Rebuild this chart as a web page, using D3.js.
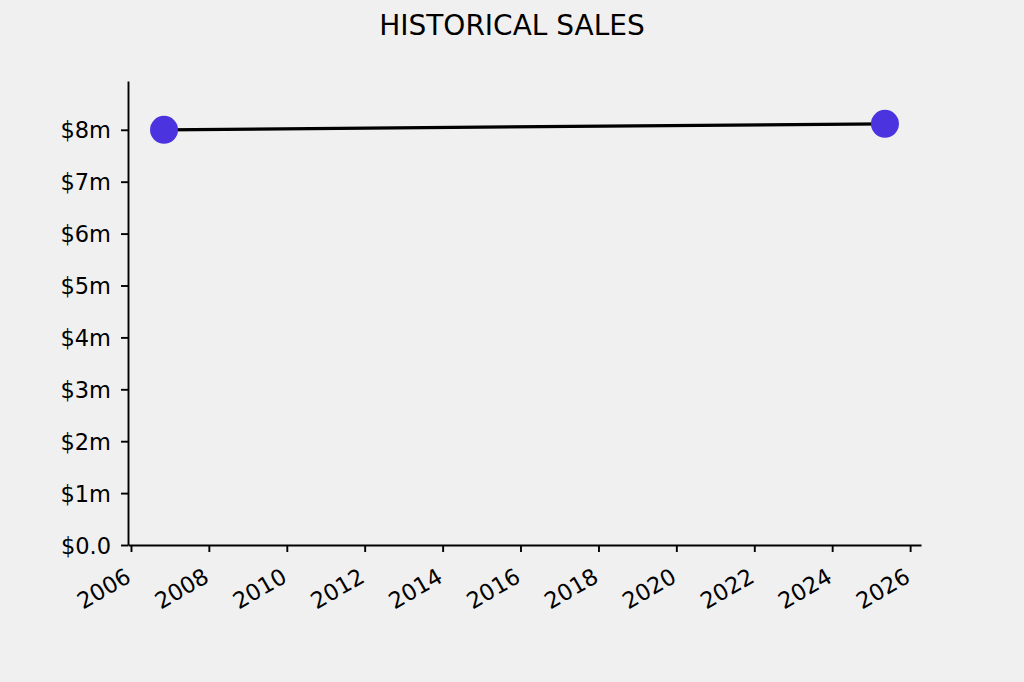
<!DOCTYPE html>
<html>
<head>
<meta charset="utf-8">
<script src="https://cdn.jsdelivr.net/npm/d3@7"></script>
<style>
  body { margin: 0; background: #f0f0f0; }
  svg, svg text { font-family: "DejaVu Sans", sans-serif; }
  svg { display: block; }
  .axis path, .axis line { stroke: #000; stroke-width: 1.9; }
  .axis text { fill: #000; font-size: 22.5px; font-family: "DejaVu Sans", sans-serif; }
</style>
</head>
<body>
<div id="chart"></div>
<script>
// sales over time (in millions)
const saleDates = ['2006-11-07', '2025-05-10']
const saleValues = [8.0, 8.115]
const yTicks = [0, 1, 2, 3, 4, 5, 6, 7, 8]
const xTickYears = [2006, 2008, 2010, 2012, 2014, 2016, 2018, 2020, 2022, 2024, 2026]

const width = 1024
const height = 682
const margin = {top: 81, right: 103, bottom: 137, left: 128}

const parse = d3.timeParse('%Y-%m-%d')
const data = saleDates.map((d, i) => ({date: parse(d), value: saleValues[i]}))

const svg = d3.select('#chart')
  .append('svg')
  .attr('width', width)
  .attr('height', height)

svg.append('rect')
  .attr('width', width)
  .attr('height', height)
  .attr('fill', '#f0f0f0')

// matplotlib style 5% margins on x
const ext = d3.extent(data, d => d.date)
const pad = (ext[1] - ext[0]) * 0.05
const x = d3.scaleTime()
  .domain([new Date(+ext[0] - pad), new Date(+ext[1] + pad)])
  .range([margin.left, width - margin.right])

const y = d3.scaleLinear()
  .domain([0, 8.94])
  .range([height - margin.bottom, margin.top])

svg.append('text')
  .attr('x', width / 2)
  .attr('y', 35)
  .attr('text-anchor', 'middle')
  .style('font-size', '28px')
  .text('HISTORICAL SALES')

const xAxis = d3.axisBottom(x)
  .tickValues(xTickYears.map(yr => new Date(yr, 0, 1)))
  .tickFormat(d3.timeFormat('%Y'))
  .tickSize(7)
  .tickSizeOuter(0)

const gx = svg.append('g')
  .attr('class', 'axis')
  .attr('transform', `translate(0,${height - margin.bottom})`)
  .call(xAxis)

gx.selectAll('text')
  .attr('text-anchor', 'end')
  .attr('dy', null)
  .attr('y', 0)
  .attr('transform', 'translate(1,36) rotate(-30)')

const yAxis = d3.axisLeft(y)
  .tickValues(yTicks)
  .tickFormat(d => d === 0 ? '$0.0' : `$${d}m`)
  .tickSize(7)
  .tickSizeOuter(0)

svg.append('g')
  .attr('class', 'axis')
  .attr('transform', `translate(${margin.left},0)`)
  .call(yAxis)
  .selectAll('text')
  .attr('x', -17)
  .attr('dy', '0.36em')

const line = d3.line()
  .x(d => x(d.date))
  .y(d => y(d.value))

svg.append('path')
  .datum(data)
  .attr('fill', 'none')
  .attr('stroke', '#000')
  .attr('stroke-width', 3.3)
  .attr('d', line)

svg.selectAll('circle.pt')
  .data(data)
  .enter().append('circle')
  .attr('class', 'pt')
  .attr('cx', d => x(d.date))
  .attr('cy', d => y(d.value))
  .attr('r', 14)
  .attr('fill', '#4b34e0')
</script>
</body>
</html>
